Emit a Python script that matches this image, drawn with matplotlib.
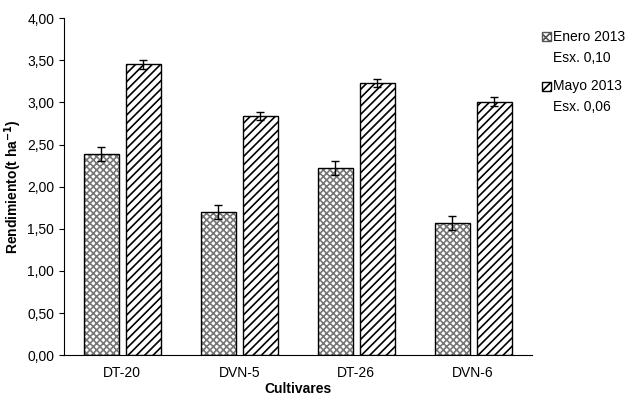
import matplotlib.pyplot as plt
import numpy as np
from matplotlib.patches import Rectangle

cultivares = ['DT-20', 'DVN-5', 'DT-26', 'DVN-6']
enero = [2.39, 1.70, 2.22, 1.57]
mayo = [3.45, 2.84, 3.23, 3.01]
err_enero = 0.08
err_mayo = 0.05

plt.rcParams['font.family'] = 'Liberation Sans'
plt.rcParams['hatch.linewidth'] = 1.2
fig = plt.figure(figsize=(6.39, 4.12), dpi=100)
ax = fig.add_axes([0.1, 0.138, 0.732, 0.818])

x = np.arange(len(cultivares))
w = 0.3
ax.bar(x - w/2 - 0.03, enero, w, color='white', edgecolor='#777777', hatch='xxxxx', linewidth=0,
       yerr=err_enero, capsize=3, error_kw={'elinewidth': 1})
ax.bar(x - w/2 - 0.03, enero, w, color='none', edgecolor='black', linewidth=1)
ax.bar(x + w/2 + 0.03, mayo, w, color='white', edgecolor='black', hatch='////', linewidth=1,
       yerr=err_mayo, capsize=3, error_kw={'elinewidth': 1})

ax.set_xlim(-0.5, 3.5)
ax.set_ylim(0, 4)
ticks = np.arange(0, 4.01, 0.5)
ax.set_yticks(ticks)
ax.set_yticklabels([f'{v:.2f}'.replace('.', ',') for v in ticks], fontsize=10)
ax.set_xticks(x)
ax.set_xticklabels(cultivares, fontsize=10)
ax.tick_params(axis='x', length=0, pad=8)
for s in ['top', 'right']:
    ax.spines[s].set_visible(False)
ax.set_ylabel('Rendimiento(t ha$^{\\mathbf{-1}}$)', fontsize=10, fontweight='bold', labelpad=2)
ax.set_xlabel('Cultivares', fontsize=10, fontweight='bold', labelpad=1)

fig.patches.append(Rectangle((0.848, 0.9), 0.014, 0.022, transform=fig.transFigure,
                             facecolor='white', edgecolor='#555555', hatch='xxxx'))
fig.text(0.866, 0.911, 'Enero 2013', fontsize=10, va='center')
fig.text(0.866, 0.86, 'Esx. 0,10', fontsize=10, va='center')
fig.patches.append(Rectangle((0.848, 0.78), 0.014, 0.022, transform=fig.transFigure,
                             facecolor='white', edgecolor='black', hatch='////'))
fig.text(0.866, 0.791, 'Mayo 2013', fontsize=10, va='center')
fig.text(0.866, 0.74, 'Esx. 0,06', fontsize=10, va='center')

fig.savefig('out.png')
